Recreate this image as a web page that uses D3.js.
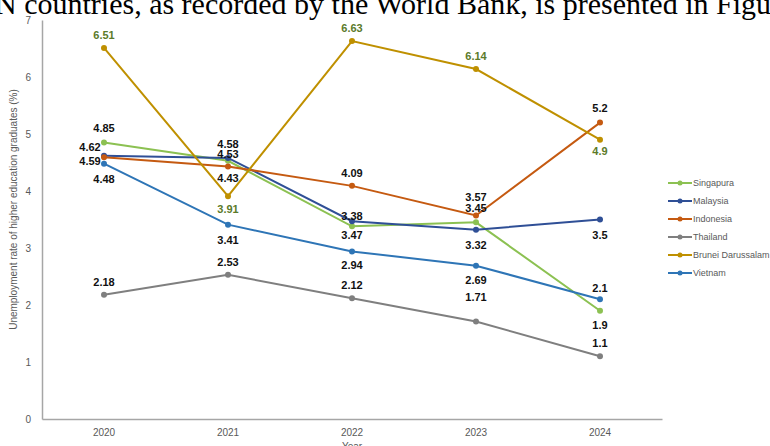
<!DOCTYPE html>
<html>
<head>
<meta charset="utf-8">
<script src="https://cdn.jsdelivr.net/npm/d3@7"></script>
<style>
  body { margin: 0; background: #fff; }
  svg { display: block; }
</style>
</head>
<body>
<div id="chart"></div>
<script>
const years = ["2020", "2021", "2022", "2023", "2024"]
const countries = ["Singapura", "Malaysia", "Indonesia", "Thailand", "Brunei Darussalam", "Vietnam"]
const singapura = [4.85, 4.53, 3.38, 3.45, 1.9]
const malaysia = [4.62, 4.58, 3.47, 3.32, 3.5]
const indonesia = [4.59, 4.43, 4.09, 3.57, 5.2]
const thailand = [2.18, 2.53, 2.12, 1.71, 1.1]
const brunei = [6.51, 3.91, 6.63, 6.14, 4.9]
const vietnam = [4.48, 3.41, 2.94, 2.69, 2.1]
const yTicks = [0, 1, 2, 3, 4, 5, 6, 7]

const seriesValues = [singapura, malaysia, indonesia, thailand, brunei, vietnam]
const colors = ["#8cc152", "#2f4f96", "#c55a11", "#7f7f7f", "#bf9000", "#2e75b6"]
const labelColors = ["#111", "#111", "#111", "#111", "#5b7a2a", "#111"]
// where each data label sits relative to its point: [dx, dy]
const labelOffsets = [
  [[0, -14], [0, -7], [0, -10], [0, -14], [0, 14]],
  [[-14, -9], [0, -14], [0, 14], [0, 15], [0, 16]],
  [[-14, 4], [0, 12], [0, -13], [0, -18], [0, -14]],
  [[0, -13], [0, -13], [0, -13], [0, -24], [0, -13]],
  [[0, -13], [0, 13], [0, -13], [0, -13], [0, 11]],
  [[0, 16], [0, 16], [0, 14], [0, 14], [0, -11]]
]

const width = 770, height = 446
const svg = d3.select("#chart").append("svg")
  .attr("width", width).attr("height", height)

// fragment of the surrounding document text, cut by the crop
const serif = "Liberation Serif, Times New Roman, serif"
const probe = svg.append("text")
  .attr("font-family", serif).attr("font-size", 30)
  .text("ASEA")
const prefixWidth = probe.node().getComputedTextLength()
probe.remove()
svg.append("text")
  .attr("x", -prefixWidth - 5).attr("y", 14)
  .attr("font-family", serif)
  .attr("font-size", 30)
  .attr("fill", "#000")
  .text("ASEAN countries, as recorded by the World Bank, is presented in Figure 1")

const xScale = d3.scaleBand().domain(years).range([42, 662])
const yScale = d3.scaleLinear().domain([0, 7]).range([419, 20])
const cx = d => xScale(d) + xScale.bandwidth() / 2

const axisColor = "#a6a6a6"
const textGray = "#595959"
const sans = "Liberation Sans Narrow, Liberation Sans, Arial, sans-serif"

const xAxis = svg.append("g")
  .attr("transform", "translate(0," + yScale(0) + ")")
  .call(d3.axisBottom(xScale).tickSize(0).tickPadding(10))
xAxis.select(".domain").attr("stroke", axisColor).attr("stroke-width", 1.5)
xAxis.selectAll("text").attr("font-family", sans).attr("font-size", 10).attr("fill", textGray)

const yAxis = svg.append("g")
  .attr("transform", "translate(42,0)")
  .call(d3.axisLeft(yScale).tickValues(yTicks).tickFormat(d3.format("d")).tickSize(0).tickPadding(11))
yAxis.select(".domain").attr("stroke", axisColor).attr("stroke-width", 1.5)
yAxis.selectAll("text").attr("font-family", sans).attr("font-size", 10).attr("fill", textGray)

svg.append("text")
  .attr("transform", "translate(17," + (yScale(3.5) - 10) + ") rotate(-90)")
  .attr("text-anchor", "middle")
  .attr("font-family", sans).attr("font-size", 10).attr("fill", textGray)
  .text("Unemployment rate of higher education graduates (%)")

svg.append("text")
  .attr("x", cx("2022")).attr("y", 450)
  .attr("text-anchor", "middle")
  .attr("font-family", sans).attr("font-size", 10).attr("fill", textGray)
  .text("Year")

const line = d3.line().x((d, i) => cx(years[i])).y(d => yScale(d))

seriesValues.forEach((vals, s) => {
  const g = svg.append("g")
  g.append("path")
    .attr("d", line(vals))
    .attr("fill", "none")
    .attr("stroke", colors[s])
    .attr("stroke-width", 2)
  g.selectAll("circle").data(vals).join("circle")
    .attr("cx", (d, i) => cx(years[i]))
    .attr("cy", d => yScale(d))
    .attr("r", 3)
    .attr("fill", colors[s])
})

seriesValues.forEach((vals, s) => {
  svg.append("g").selectAll("text").data(vals).join("text")
    .attr("x", (d, i) => cx(years[i]) + labelOffsets[s][i][0])
    .attr("y", (d, i) => yScale(d) + labelOffsets[s][i][1])
    .attr("dy", "0.35em")
    .attr("text-anchor", "middle")
    .attr("font-family", sans).attr("font-size", 11).attr("font-weight", "bold")
    .attr("fill", labelColors[s])
    .text(d => d)
})

const legend = svg.append("g")
const legendY = d3.scalePoint().domain(countries).range([183, 273])
countries.forEach((c, s) => {
  const y = legendY(c)
  legend.append("line")
    .attr("x1", 668).attr("x2", 692).attr("y1", y).attr("y2", y)
    .attr("stroke", colors[s]).attr("stroke-width", 2)
  legend.append("circle").attr("cx", 680).attr("cy", y).attr("r", 2.5).attr("fill", colors[s])
  legend.append("text")
    .attr("x", 693).attr("y", y).attr("dy", "0.35em")
    .attr("font-family", sans).attr("font-size", 9).attr("fill", textGray)
    .text(c)
})
</script>
</body>
</html>
